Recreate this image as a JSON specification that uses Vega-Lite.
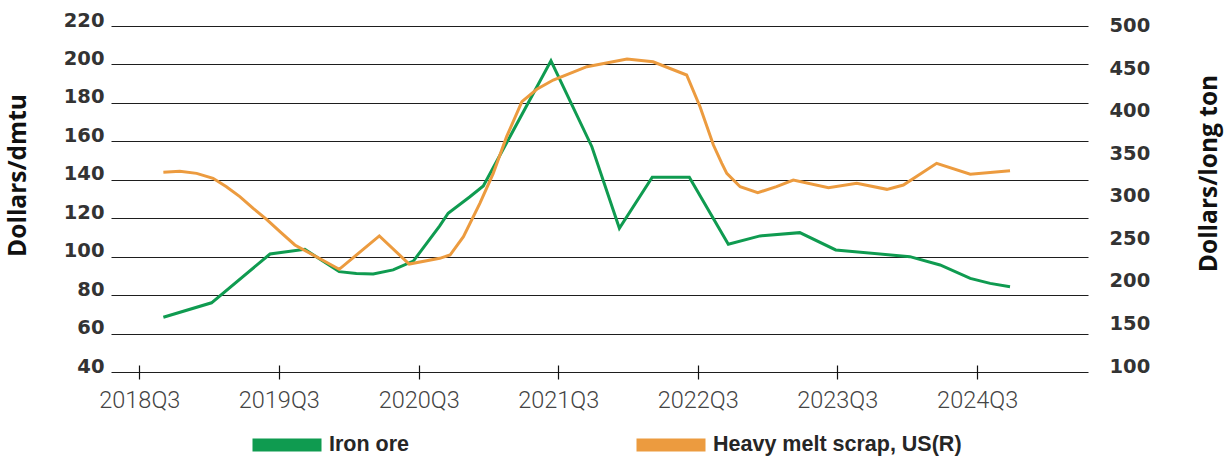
{
  "$schema": "https://vega.github.io/schema/vega-lite/v6.json",
  "width": 977,
  "height": 346,
  "autosize": {"type": "none"},
  "padding": {"left": 111, "top": 26, "right": 144, "bottom": 90},
  "background": "white",
  "config": {"view": {"stroke": null}},
  "datasets": {
    "iron": [
      {"date": "2018-09-02", "value": 68.5, "series": "Iron ore"},
      {"date": "2019-01-06", "value": 76.0, "series": "Iron ore"},
      {"date": "2019-06-08", "value": 101.4, "series": "Iron ore"},
      {"date": "2019-09-07", "value": 103.8, "series": "Iron ore"},
      {"date": "2019-12-06", "value": 92.2, "series": "Iron ore"},
      {"date": "2020-01-20", "value": 91.3, "series": "Iron ore"},
      {"date": "2020-03-04", "value": 91.0, "series": "Iron ore"},
      {"date": "2020-04-25", "value": 93.1, "series": "Iron ore"},
      {"date": "2020-06-17", "value": 97.7, "series": "Iron ore"},
      {"date": "2020-08-25", "value": 116.0, "series": "Iron ore"},
      {"date": "2020-09-16", "value": 122.6, "series": "Iron ore"},
      {"date": "2020-11-12", "value": 131.2, "series": "Iron ore"},
      {"date": "2020-12-17", "value": 136.8, "series": "Iron ore"},
      {"date": "2021-06-12", "value": 201.9, "series": "Iron ore"},
      {"date": "2021-09-27", "value": 157.2, "series": "Iron ore"},
      {"date": "2021-12-08", "value": 114.8, "series": "Iron ore"},
      {"date": "2022-03-04", "value": 141.3, "series": "Iron ore"},
      {"date": "2022-06-09", "value": 141.3, "series": "Iron ore"},
      {"date": "2022-09-19", "value": 106.5, "series": "Iron ore"},
      {"date": "2022-12-11", "value": 110.8, "series": "Iron ore"},
      {"date": "2023-03-25", "value": 112.5, "series": "Iron ore"},
      {"date": "2023-06-27", "value": 103.5, "series": "Iron ore"},
      {"date": "2024-01-07", "value": 100.0, "series": "Iron ore"},
      {"date": "2024-03-26", "value": 95.7, "series": "Iron ore"},
      {"date": "2024-06-13", "value": 88.7, "series": "Iron ore"},
      {"date": "2024-08-04", "value": 86.1, "series": "Iron ore"},
      {"date": "2024-09-25", "value": 84.4, "series": "Iron ore"}
    ],
    "scrap": [
      {"date": "2018-09-02", "value": 334.7, "series": "Heavy melt scrap, US(R)"},
      {"date": "2018-10-15", "value": 335.9, "series": "Heavy melt scrap, US(R)"},
      {"date": "2018-11-28", "value": 333.5, "series": "Heavy melt scrap, US(R)"},
      {"date": "2019-01-10", "value": 327.7, "series": "Heavy melt scrap, US(R)"},
      {"date": "2019-02-14", "value": 317.8, "series": "Heavy melt scrap, US(R)"},
      {"date": "2019-03-21", "value": 306.1, "series": "Heavy melt scrap, US(R)"},
      {"date": "2019-04-25", "value": 292.4, "series": "Heavy melt scrap, US(R)"},
      {"date": "2019-05-30", "value": 279.5, "series": "Heavy melt scrap, US(R)"},
      {"date": "2019-07-04", "value": 264.9, "series": "Heavy melt scrap, US(R)"},
      {"date": "2019-08-12", "value": 249.3, "series": "Heavy melt scrap, US(R)"},
      {"date": "2019-12-06", "value": 220.7, "series": "Heavy melt scrap, US(R)"},
      {"date": "2020-03-20", "value": 259.9, "series": "Heavy melt scrap, US(R)"},
      {"date": "2020-06-06", "value": 226.9, "series": "Heavy melt scrap, US(R)"},
      {"date": "2020-08-25", "value": 233.6, "series": "Heavy melt scrap, US(R)"},
      {"date": "2020-09-21", "value": 237.5, "series": "Heavy melt scrap, US(R)"},
      {"date": "2020-10-26", "value": 259.0, "series": "Heavy melt scrap, US(R)"},
      {"date": "2020-12-08", "value": 298.3, "series": "Heavy melt scrap, US(R)"},
      {"date": "2021-01-12", "value": 333.5, "series": "Heavy melt scrap, US(R)"},
      {"date": "2021-02-16", "value": 376.6, "series": "Heavy melt scrap, US(R)"},
      {"date": "2021-03-28", "value": 417.7, "series": "Heavy melt scrap, US(R)"},
      {"date": "2021-05-06", "value": 432.3, "series": "Heavy melt scrap, US(R)"},
      {"date": "2021-06-18", "value": 443.2, "series": "Heavy melt scrap, US(R)"},
      {"date": "2021-09-14", "value": 458.9, "series": "Heavy melt scrap, US(R)"},
      {"date": "2021-12-28", "value": 467.9, "series": "Heavy melt scrap, US(R)"},
      {"date": "2022-03-06", "value": 464.7, "series": "Heavy melt scrap, US(R)"},
      {"date": "2022-06-02", "value": 449.1, "series": "Heavy melt scrap, US(R)"},
      {"date": "2022-07-07", "value": 411.8, "series": "Heavy melt scrap, US(R)"},
      {"date": "2022-08-11", "value": 366.8, "series": "Heavy melt scrap, US(R)"},
      {"date": "2022-09-02", "value": 345.3, "series": "Heavy melt scrap, US(R)"},
      {"date": "2022-09-15", "value": 333.5, "series": "Heavy melt scrap, US(R)"},
      {"date": "2022-10-20", "value": 317.8, "series": "Heavy melt scrap, US(R)"},
      {"date": "2022-12-05", "value": 310.8, "series": "Heavy melt scrap, US(R)"},
      {"date": "2023-01-23", "value": 317.8, "series": "Heavy melt scrap, US(R)"},
      {"date": "2023-03-08", "value": 325.7, "series": "Heavy melt scrap, US(R)"},
      {"date": "2023-06-08", "value": 316.6, "series": "Heavy melt scrap, US(R)"},
      {"date": "2023-08-21", "value": 321.8, "series": "Heavy melt scrap, US(R)"},
      {"date": "2023-11-08", "value": 314.7, "series": "Heavy melt scrap, US(R)"},
      {"date": "2023-12-21", "value": 319.8, "series": "Heavy melt scrap, US(R)"},
      {"date": "2024-03-17", "value": 345.3, "series": "Heavy melt scrap, US(R)"},
      {"date": "2024-06-13", "value": 332.4, "series": "Heavy melt scrap, US(R)"},
      {"date": "2024-09-25", "value": 336.6, "series": "Heavy melt scrap, US(R)"}
    ]
  },
  "encoding": {
    "x": {
      "field": "date",
      "type": "temporal",
      "scale": {
        "type": "utc",
        "domain": [
          {"year": 2018, "month": 4, "date": 18, "utc": true},
          {"year": 2025, "month": 4, "date": 17, "utc": true}
        ]
      },
      "axis": {
        "title": null,
        "values": [
          {"year": 2018, "month": 7, "date": 1, "utc": true},
          {"year": 2019, "month": 7, "date": 1, "utc": true},
          {"year": 2020, "month": 7, "date": 1, "utc": true},
          {"year": 2021, "month": 7, "date": 1, "utc": true},
          {"year": 2022, "month": 7, "date": 1, "utc": true},
          {"year": 2023, "month": 7, "date": 1, "utc": true},
          {"year": 2024, "month": 7, "date": 1, "utc": true}
        ],
        "labelExpr": "utcFormat(datum.value, '%Y') + 'Q' + utcquarter(datum.value)",
        "domain": false,
        "grid": false,
        "offset": -7,
        "tickSize": 14,
        "tickColor": "#111111",
        "tickWidth": 1.2,
        "labelFont": "Roboto",
        "labelFontWeight": 300,
        "labelFontSize": 23.5,
        "labelColor": "#444444",
        "labelPadding": 9,
        "labelFlush": false,
        "labelOverlap": false
      }
    },
    "color": {
      "field": "series",
      "type": "nominal",
      "scale": {
        "domain": ["Iron ore", "Heavy melt scrap, US(R)"],
        "range": ["#0f9b50", "#ec9b3f"]
      },
      "legend": {
        "title": null,
        "orient": "none",
        "direction": "horizontal",
        "legendX": 135,
        "legendY": 378,
        "padding": 0,
        "symbolType": "stroke",
        "symbolSize": 4761,
        "symbolStrokeWidth": 13,
        "symbolOpacity": 1,
        "labelFont": "Liberation Sans",
        "labelFontWeight": "bold",
        "labelFontSize": 21.5,
        "labelColor": "#262626",
        "labelOffset": 1,
        "labelLimit": 400,
        "columnPadding": 200
      }
    }
  },
  "layer": [
    {
      "data": {"name": "iron"},
      "mark": {"type": "line", "strokeWidth": 3, "interpolate": "linear"},
      "encoding": {
        "y": {
          "field": "value",
          "type": "quantitative",
          "scale": {"domain": [40, 220], "nice": false, "zero": false},
          "axis": {
            "orient": "left",
            "values": [40, 60, 80, 100, 120, 140, 160, 180, 200, 220],
            "grid": true,
            "gridColor": "#1e1e1e",
            "gridWidth": 1.2,
            "domain": false,
            "ticks": false,
            "labelFont": "DejaVu Sans",
            "labelFontSize": 19.5,
            "labelFontWeight": "bold",
            "labelColor": "#333333",
            "labelPadding": 7,
            "labelBaseline": "alphabetic",
            "labelOverlap": false,
            "labelFlush": false,
            "title": "Dollars/dmtu",
            "titleFont": "Open Sans",
            "titleFontSize": 24.5,
            "titleFontWeight": "bold",
            "titleColor": "#111111",
            "titleAngle": -90,
            "titleX": -93,
            "titleY": 149,
            "titleAlign": "center",
            "titleBaseline": "middle"
          }
        }
      }
    },
    {
      "data": {"name": "scrap"},
      "mark": {"type": "line", "strokeWidth": 3, "interpolate": "linear"},
      "encoding": {
        "y": {
          "field": "value",
          "type": "quantitative",
          "scale": {"domain": [100, 506.7], "nice": false, "zero": false},
          "axis": {
            "orient": "right",
            "values": [100, 150, 200, 250, 300, 350, 400, 450, 500],
            "grid": false,
            "domain": false,
            "ticks": false,
            "labelFont": "DejaVu Sans",
            "labelFontSize": 19.5,
            "labelFontWeight": "bold",
            "labelColor": "#333333",
            "labelPadding": 21,
            "labelAlign": "left",
            "labelBaseline": "alphabetic",
            "labelOverlap": false,
            "labelFlush": false,
            "title": "Dollars/long ton",
            "titleFont": "Open Sans",
            "titleFontSize": 24.5,
            "titleFontWeight": "bold",
            "titleColor": "#111111",
            "titleAngle": -90,
            "titleX": 121,
            "titleY": 147,
            "titleAlign": "center",
            "titleBaseline": "middle"
          }
        }
      }
    }
  ],
  "resolve": {"scale": {"y": "independent"}}
}
